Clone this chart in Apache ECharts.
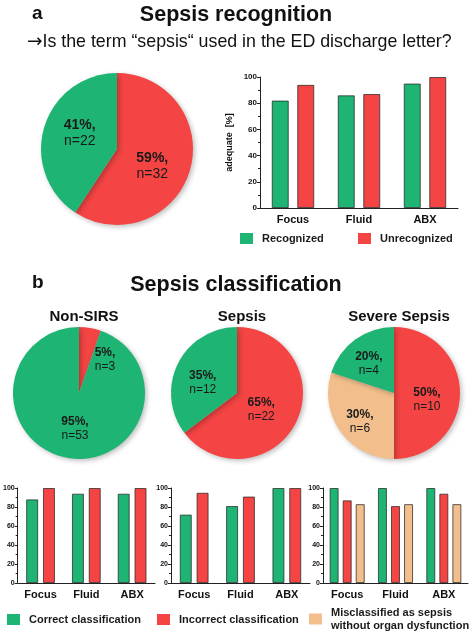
<!DOCTYPE html>
<html><head><meta charset="utf-8">
<script src="https://cdn.jsdelivr.net/npm/echarts@6/dist/echarts.min.js"></script>
<style>html,body{margin:0;padding:0;background:#fff}#c{width:472px;height:635px}</style>
</head><body><div id="c"></div>
<script>
// ---- data ----
const categories = ['Focus', 'Fluid', 'ABX'];
const yTickMax = 100;
const yTickStep = 20;

// a: recognition pie (n)
const recognitionNames = ['Unrecognized', 'Recognized'];
const recognitionCounts = [32, 22];
// a: adequate [%]
const recognizedAdequate = [82, 86, 95];
const unrecognizedAdequate = [94, 87, 100];

// b: classification pies (n)
const classNames = ['Incorrect classification', 'Correct classification'];
const nonSirsCounts = [3, 53];
const sepsisCounts = [22, 12];
const severeNames = ['Incorrect classification', 'Misclassified as sepsis without organ dysfunction', 'Correct classification'];
const severeCounts = [10, 6, 4];
const pieTitles = ['Non-SIRS', 'Sepsis', 'Severe Sepsis'];

// b: adequate [%]
const nonSirsCorrect = [88, 94, 94];
const nonSirsIncorrect = [100, 100, 100];
const sepsisCorrect = [72, 81, 100];
const sepsisIncorrect = [95, 91, 100];
const severeCorrect = [100, 100, 100];
const severeIncorrect = [87, 81, 94];
const severeMisclassified = [83, 83, 83];

// ---- style ----
const GREEN = '#1db474';
const RED = '#f44444';
const BEIGE = '#f2bf8c';
const FONT = '"Liberation Sans", Arial, sans-serif';
const colorOf = {
  'Recognized': GREEN, 'Unrecognized': RED,
  'Correct classification': GREEN, 'Incorrect classification': RED,
  'Misclassified as sepsis without organ dysfunction': BEIGE
};

const chart = echarts.init(document.getElementById('c'));

function pieLabel(fs, lh) {
  return {
    show: true, position: 'inside',
    formatter: p => '{b|' + Math.round(p.percent) + '%,}\n{n|n=' + p.value + '}',
    rich: {
      b: { fontFamily: FONT, fontWeight: 'bold', fontSize: fs, color: '#1a1a1a', lineHeight: lh },
      n: { fontFamily: FONT, fontSize: fs, color: '#1a1a1a', lineHeight: lh }
    }
  };
}
function pieData(names, counts, offsets) {
  return names.map((n, i) => ({
    name: n, value: counts[i],
    itemStyle: { color: colorOf[n] },
    label: { offset: offsets[i] }
  }));
}
function pie(center, radius, names, counts, offsets, fs, lh) {
  return {
    type: 'pie', center: center, radius: radius, startAngle: 90, clockwise: true,
    silent: true, animation: false,
    labelLine: { show: false },
    label: pieLabel(fs, lh),
    itemStyle: { shadowBlur: 5, shadowColor: 'rgba(0,0,0,0.25)', shadowOffsetX: 2, shadowOffsetY: 2 },
    data: pieData(names, counts, offsets)
  };
}

const axisLine = { show: true, lineStyle: { color: '#222', width: 1 } };
function xAxis(gi, fs) {
  return {
    type: 'category', gridIndex: gi, data: categories,
    axisLine: axisLine, axisTick: { show: false },
    axisLabel: { fontFamily: FONT, fontWeight: 'bold', fontSize: fs, color: '#111', margin: 6 }
  };
}
function yAxis(gi, fs, extra) {
  return Object.assign({
    type: 'value', gridIndex: gi, min: 0, max: yTickMax, interval: yTickStep,
    axisLine: axisLine,
    axisTick: { show: true, length: 3, lineStyle: { color: '#222' } },
    minorTick: { show: true, splitNumber: 2, length: 2, lineStyle: { color: '#222' } },
    splitLine: { show: false },
    axisLabel: { fontFamily: FONT, fontWeight: 'bold', fontSize: fs, color: '#111', margin: 3 }
  }, extra || {});
}
function bar(name, data, xi, width, gap) {
  return {
    type: 'bar', name: name, data: data, xAxisIndex: xi, yAxisIndex: xi,
    barWidth: width, barGap: gap, animation: false,
    itemStyle: { color: colorOf[name], borderColor: 'rgba(40,40,40,0.75)', borderWidth: 1 }
  };
}
function legendItem(name, left, top, fmt) {
  return {
    data: [name], left: left, top: top, icon: 'rect', itemWidth: 13, itemHeight: 11,
    itemGap: 0, selectedMode: false, padding: 0,
    itemStyle: { borderWidth: 0 },
    formatter: fmt || (n => n),
    textStyle: { fontFamily: FONT, fontWeight: 'bold', fontSize: 11, color: '#1a1a1a', padding: [0, 0, 0, 4], lineHeight: 13 }
  };
}

const option = {
  backgroundColor: '#fff',
  animation: false,
  title: [
    { text: 'a', left: 27, top: -1, textStyle: { fontFamily: FONT, fontWeight: 'bold', fontSize: 19, color: '#111' } },
    { text: 'Sepsis recognition', left: 'center', top: -1, textStyle: { fontFamily: FONT, fontWeight: 'bold', fontSize: 21.5, color: '#111' } },
    { text: '{ar|\u2192}Is the term \u201csepsis\u201c used in the ED discharge letter?', left: 22, top: 28,
      textStyle: { fontFamily: FONT, fontWeight: 'normal', fontSize: 17.8, color: '#111',
        rich: { ar: { fontFamily: '"DejaVu Sans"', fontSize: 18.5, color: '#111' } } } },
    { text: 'b', left: 27, top: 268, textStyle: { fontFamily: FONT, fontWeight: 'bold', fontSize: 19, color: '#111' } },
    { text: 'Sepsis classification', left: 'center', top: 269, textStyle: { fontFamily: FONT, fontWeight: 'bold', fontSize: 21.5, color: '#111' } },
    { text: pieTitles[0], left: 79, textAlign: 'center', top: 304, textStyle: { fontFamily: FONT, fontWeight: 'bold', fontSize: 15, color: '#111' } },
    { text: pieTitles[1], left: 237, textAlign: 'center', top: 304, textStyle: { fontFamily: FONT, fontWeight: 'bold', fontSize: 15, color: '#111' } },
    { text: pieTitles[2], left: 394, textAlign: 'center', top: 304, textStyle: { fontFamily: FONT, fontWeight: 'bold', fontSize: 15, color: '#111' } }
  ],
  legend: [
    legendItem('Recognized', 240, 232),
    legendItem('Unrecognized', 358, 232),
    legendItem('Correct classification', 7, 613),
    legendItem('Incorrect classification', 157, 613),
    legendItem('Misclassified as sepsis without organ dysfunction', 309, 606, () => 'Misclassified as sepsis\nwithout organ dysfunction')
  ],
  grid: [
    { left: 260, top: 77, width: 198, height: 131, containLabel: false },
    { left: 16, top: 488, width: 139, height: 95, containLabel: false },
    { left: 171, top: 488, width: 139, height: 95, containLabel: false },
    { left: 323, top: 488, width: 145, height: 95, containLabel: false }
  ],
  xAxis: [xAxis(0, 11), xAxis(1, 11), xAxis(2, 11), xAxis(3, 11)],
  yAxis: [
    yAxis(0, 8, { name: 'adequate  [%]', nameLocation: 'middle', nameRotate: 90, nameGap: 26,
      nameTextStyle: { fontFamily: FONT, fontWeight: 'bold', fontSize: 9, color: '#111' } }),
    yAxis(1, 7), yAxis(2, 7), yAxis(3, 7)
  ],
  series: [
    pie([117, 149], 76, recognitionNames, recognitionCounts, [[-4, 5], [2, -4]], 14, 16),
    pie([79, 393], 66, classNames, nonSirsCounts, [[20, 2], [2, 0]], 12, 14),
    pie([237, 393], 66, classNames, sepsisCounts, [[-8, 1], [-2, 6]], 12, 14),
    pie([394, 393], 66, severeNames, severeCounts, [[-3, 7], [-5, 8], [-4, 0]], 12, 14),
    bar('Recognized', recognizedAdequate, 0, 17, '50%'),
    bar('Unrecognized', unrecognizedAdequate, 0, 17, '50%'),
    bar('Correct classification', nonSirsCorrect, 1, 12, '40%'),
    bar('Incorrect classification', nonSirsIncorrect, 1, 12, '40%'),
    bar('Correct classification', sepsisCorrect, 2, 12, '40%'),
    bar('Incorrect classification', sepsisIncorrect, 2, 12, '40%'),
    bar('Correct classification', severeCorrect, 3, 9, '45%'),
    bar('Incorrect classification', severeIncorrect, 3, 9, '45%'),
    bar('Misclassified as sepsis without organ dysfunction', severeMisclassified, 3, 9, '45%')
  ]
};
chart.setOption(option);
</script>
</body></html>
